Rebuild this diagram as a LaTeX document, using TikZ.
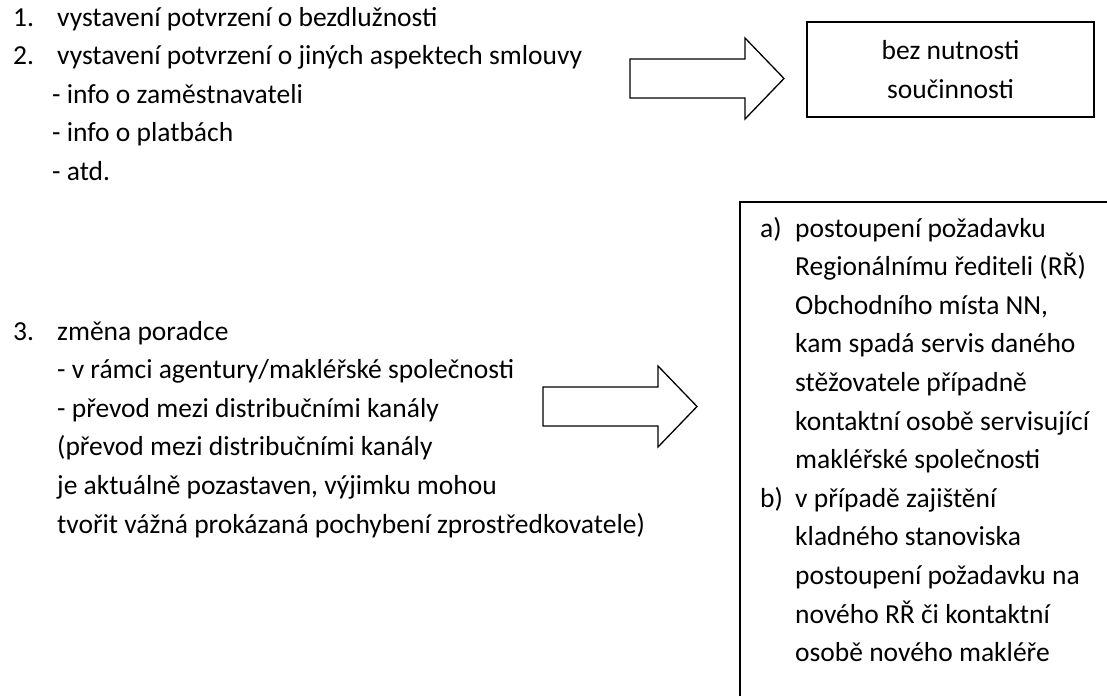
\documentclass[tikz,border=0pt]{standalone}
\usepackage{fontspec}
\setmainfont{Carlito}
\usetikzlibrary{positioning}

\tikzset{
  txt/.style={anchor=base west, inner sep=0pt, font=\fontsize{27.5}{38.6}\selectfont},
  frame/.style={draw, line width=1.2pt},
  blockarr/.style={draw, line width=1.3pt, line join=miter},
}

\begin{document}
\begin{tikzpicture}[x=1pt, y=-1pt]
\useasboundingbox (0,0) rectangle (1107,696);

% ========== items 1 and 2 ==========
\node[txt] (num1) at (13,26) {1.};
\node[txt] (item1) at (57,26) {vystavení potvrzení o bezdlužnosti};
\node[txt] (num2) at (13,64.6) {2.};
\node[txt] (item2) at (57,64.6) {vystavení potvrzení o jiných aspektech smlouvy};
\foreach \s [count=\k] in {{info o zaměstnavateli}, {info o platbách}, {atd.}} {
  \node[txt] (sub\k) at (52,{64.6+\k*38.6}) {- \s};
}

% ========== item 3 ==========
\node[txt] (num3) at (13,340) {3.};
\node[txt] (item3) at (57,340) {změna poradce};
\foreach \s [count=\k] in {{- v rámci agentury/makléřské společnosti},
    {- převod mezi distribučními kanály},
    {(převod mezi distribučními kanály},
    {je aktuálně pozastaven, výjimku mohou},
    {tvořit vážná prokázaná pochybení zprostředkovatele)}} {
  \node[txt] (line\k) at (57,{340+\k*38.6}) {\s};
}

% Block arrows
\foreach \ax/\ay in {630/78.5, 543/406.5} {
  \draw[blockarr] (\ax,{\ay-19.5}) -- ({\ax+115},{\ay-19.5}) -- ({\ax+115},{\ay-40.5})
    -- ({\ax+154},\ay) -- ({\ax+115},{\ay+40.5}) -- ({\ax+115},{\ay+19.5})
    -- (\ax,{\ay+19.5}) -- cycle;
}

% Upper box
\node[frame, minimum width=287pt, minimum height=95pt, align=center,
  font=\fontsize{27.5}{38.6}\selectfont] (nocoop) at (950.5,69.5) {bez nutnosti\\součinnosti};

% Lower box: runs off the right and bottom edge
\coordinate (corner) at (740,202);
\draw[frame] (740,696) -- (corner) -- (1107,202);

\node[txt] (lab-a) at (760,237) {a)};
\node[txt] (lab-b) at (760,{237+7*38.6}) {b)};
\foreach \s [count=\k from 0] in {{postoupení požadavku},
    {Regionálnímu řediteli (RŘ)},
    {Obchodního místa NN,},
    {kam spadá servis daného},
    {stěžovatele případně},
    {kontaktní osobě servisující},
    {makléřské společnosti},
    {v případě zajištění},
    {kladného stanoviska},
    {postoupení požadavku na},
    {nového RŘ či kontaktní},
    {osobě nového makléře}} {
  \node[txt] (step\k) at (795,{237+\k*38.6}) {\s};
}

\end{tikzpicture}
\end{document}
